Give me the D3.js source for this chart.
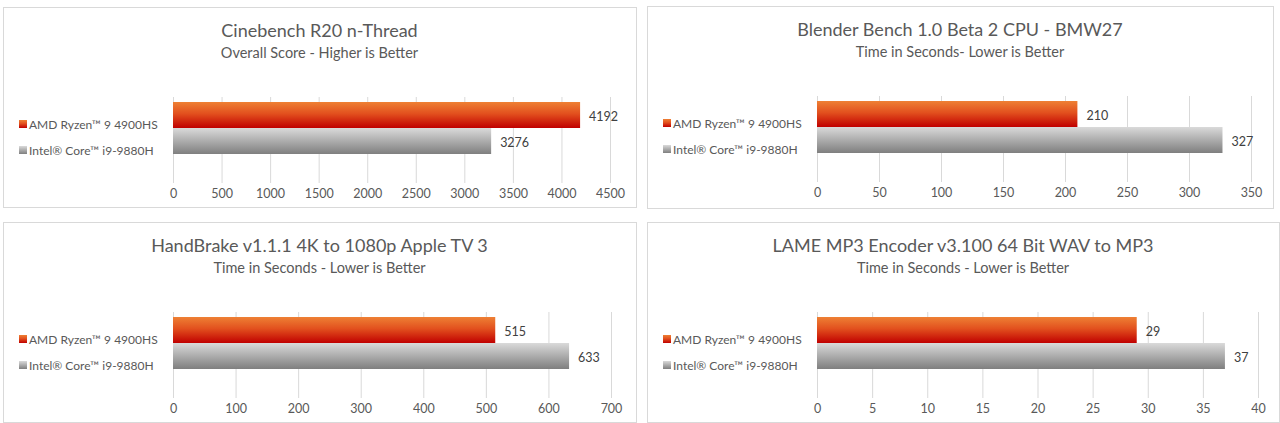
<!DOCTYPE html>
<html>
<head>
<meta charset="utf-8">
<script src="https://cdn.jsdelivr.net/npm/d3@7"></script>
<style>
  body { margin: 0; background: #fff; }
  svg { display: block; font-family: Lato, "Liberation Sans", sans-serif; }
</style>
</head>
<body>
<svg id="chart" width="1280" height="423"></svg>
<script>
// chart data
const titles = [
  "Cinebench R20 n-Thread",
  "Blender Bench 1.0 Beta 2 CPU - BMW27",
  "HandBrake v1.1.1 4K to 1080p Apple TV 3",
  "LAME MP3 Encoder v3.100 64 Bit WAV to MP3"
];
const subtitles = [
  "Overall Score - Higher is Better",
  "Time in Seconds- Lower is Better",
  "Time in Seconds - Lower is Better",
  "Time in Seconds - Lower is Better"
];
const seriesNames = ["AMD Ryzen\u2122 9 4900HS", "Intel\u00AE Core\u2122 i9-9880H"];
const amdValues = [4192, 210, 515, 29];
const intelValues = [3276, 327, 633, 37];
const axisMax = [4500, 350, 700, 40];
const tickSteps = [500, 50, 100, 5];

// panel boxes
const panels = [
  { x: 3, y: 7, w: 633, h: 200 },
  { x: 647, y: 6, w: 626, h: 202 },
  { x: 3, y: 222, w: 633, h: 200 },
  { x: 647, y: 222, w: 632, h: 200 }
];
const plotRight = [607, 604, 608, 611];

const svg = d3.select('#chart');
const defs = svg.append('defs');

const amdGrad = defs.append('linearGradient').attr('id', 'gAmd').attr('x1', 0).attr('y1', 0).attr('x2', 0).attr('y2', 1);
amdGrad.append('stop').attr('offset', '0%').attr('stop-color', '#ee8034');
amdGrad.append('stop').attr('offset', '45%').attr('stop-color', '#e2501e');
amdGrad.append('stop').attr('offset', '100%').attr('stop-color', '#c00000');

const intelGrad = defs.append('linearGradient').attr('id', 'gIntel').attr('x1', 0).attr('y1', 0).attr('x2', 0).attr('y2', 1);
intelGrad.append('stop').attr('offset', '0%').attr('stop-color', '#dadada');
intelGrad.append('stop').attr('offset', '100%').attr('stop-color', '#7f7f7f');

const fills = ['url(#gAmd)', 'url(#gIntel)'];

panels.forEach((p, i) => {
  const g = svg.append('g').attr('transform', `translate(${p.x},${p.y})`);

  g.append('rect')
    .attr('x', 0.5).attr('y', 0.5)
    .attr('width', p.w).attr('height', p.h)
    .attr('fill', '#fff')
    .attr('stroke', '#d9d9d9');

  g.append('text')
    .attr('x', p.w / 2).attr('y', 23)
    .attr('text-anchor', 'middle').attr('dominant-baseline', 'central')
    .attr('font-size', 18).attr('fill', '#595959')
    .text(titles[i]);

  g.append('text')
    .attr('x', p.w / 2).attr('y', 45)
    .attr('text-anchor', 'middle').attr('dominant-baseline', 'central')
    .attr('font-size', 14.5).attr('fill', '#595959')
    .text(subtitles[i]);

  const x = d3.scaleLinear().domain([0, axisMax[i]]).range([170, plotRight[i]]);
  const y = d3.scaleBand().domain([0, 1]).range([95, 147]).padding(0);

  const ticks = d3.range(0, axisMax[i] + tickSteps[i] / 2, tickSteps[i]);

  // gridlines
  g.selectAll('.grid')
    .data(ticks)
    .enter()
    .append('line')
    .attr('x1', d => x(d) + 0.5).attr('x2', d => x(d) + 0.5)
    .attr('y1', 90).attr('y2', 176)
    .attr('stroke', '#d9d9d9');

  // tick labels via axis
  const axis = g.append('g')
    .attr('transform', 'translate(0,176)')
    .call(d3.axisBottom(x).tickValues(ticks).tickSize(0).tickPadding(6).tickFormat(d3.format('d')));
  axis.select('.domain').remove();
  axis.selectAll('text').attr('font-size', 12.5).attr('fill', '#595959').attr('font-family', 'Lato, sans-serif');

  const vals = [amdValues[i], intelValues[i]];

  g.selectAll('.bar')
    .data(vals)
    .enter()
    .append('rect')
    .attr('x', x(0))
    .attr('y', (_, k) => y(k))
    .attr('width', d => x(d) - x(0))
    .attr('height', y.bandwidth())
    .attr('fill', (_, k) => fills[k]);

  g.selectAll('.val')
    .data(vals)
    .enter()
    .append('text')
    .attr('x', d => x(d) + 9)
    .attr('y', (_, k) => y(k) + y.bandwidth() / 2 + 1)
    .attr('dominant-baseline', 'central')
    .attr('font-size', 12.5).attr('fill', '#404040')
    .text(d => d);

  // legend
  seriesNames.forEach((name, k) => {
    const ly = 117 + k * 26;
    g.append('rect')
      .attr('x', 16).attr('y', ly - 4)
      .attr('width', 8).attr('height', 8)
      .attr('fill', fills[k]);
    g.append('text')
      .attr('x', 26).attr('y', ly)
      .attr('dominant-baseline', 'central')
      .attr('font-size', 12).attr('fill', '#595959')
      .text(name);
  });
});
</script>
</body>
</html>
